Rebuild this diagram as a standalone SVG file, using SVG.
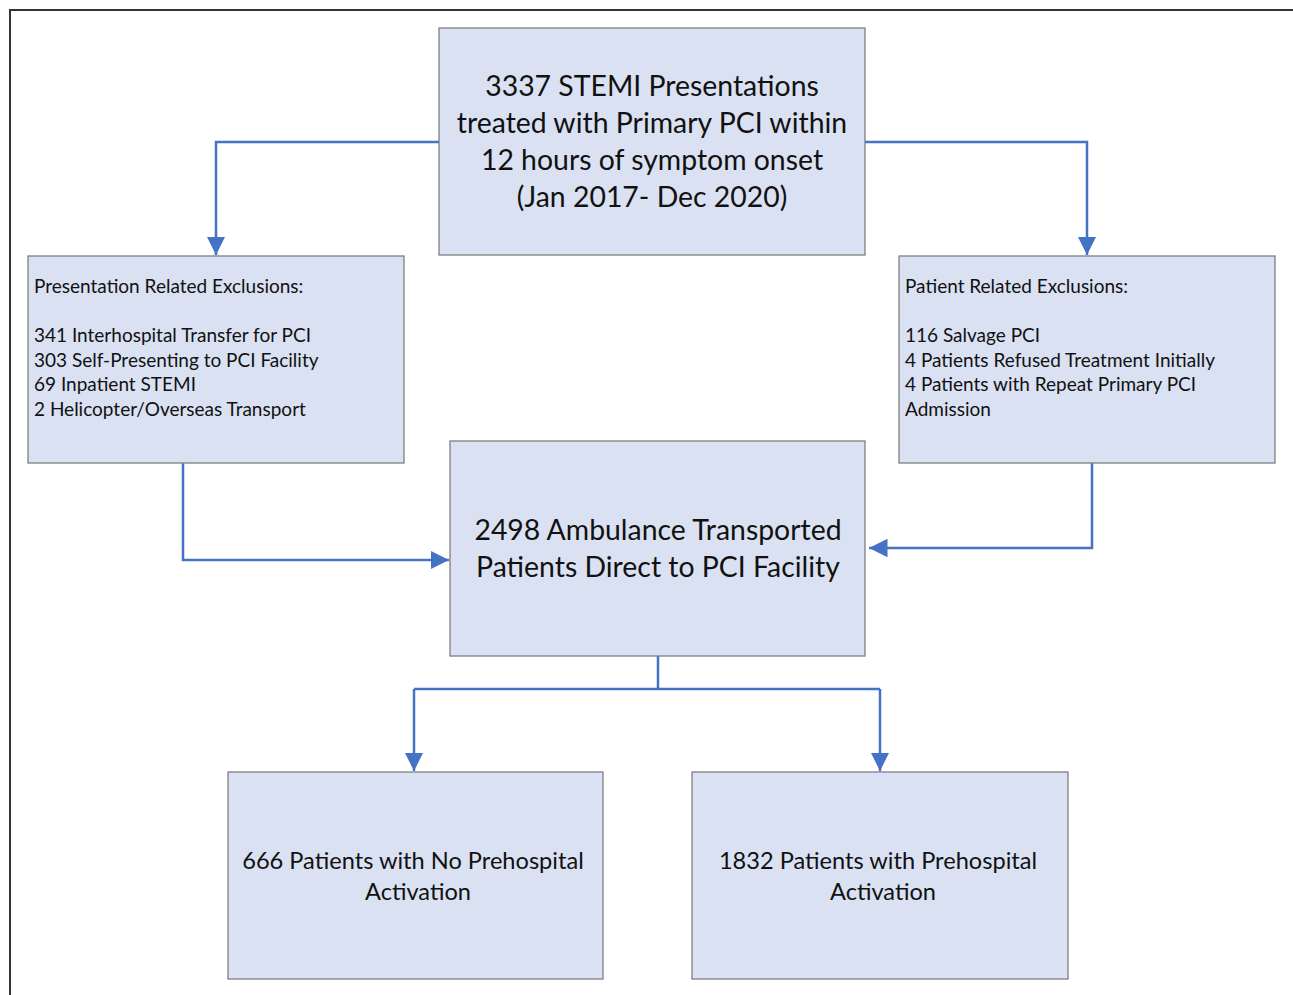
<svg xmlns="http://www.w3.org/2000/svg" width="1293" height="995" viewBox="0 0 1293 995">
<defs>
<style>
.box{fill:#dae1f3;stroke:#7f7f7f;stroke-width:1.3}
.t{font-family:Lato,"Open Sans","Liberation Sans",sans-serif;fill:#111}
.big{font-size:28.4px;text-anchor:middle}
.mid{font-size:23.6px;text-anchor:middle}
.sm{font-size:19px}
.c{fill:none;stroke:#4472c4;stroke-width:2.5}
</style>
<marker id="ah" viewBox="0 0 10 10" refX="10" refY="5" markerWidth="7.4" markerHeight="7.4" orient="auto" markerUnits="strokeWidth">
<path d="M0,0 L10,5 L0,10 z" fill="#4472c4"/>
</marker>
</defs>
<rect x="0" y="0" width="1293" height="995" fill="#fff"/>
<path d="M10,995 V10 H1293" fill="none" stroke="#333" stroke-width="2"/>
<g id="connectors">
<path class="c" d="M439,142 H216 V255" marker-end="url(#ah)"/>
<path class="c" d="M865,142 H1087 V255" marker-end="url(#ah)"/>
<path class="c" d="M183,463 V560 H449" marker-end="url(#ah)"/>
<path class="c" d="M1092,463 V548 H869" marker-end="url(#ah)"/>
<path class="c" d="M658,656 V689"/>
<path class="c" d="M414,689 H880"/>
<path class="c" d="M414,689 V771" marker-end="url(#ah)"/>
<path class="c" d="M880,689 V771" marker-end="url(#ah)"/>
</g>
<g id="n-top">
<rect class="box" x="439" y="28" width="426" height="227"/>
<text class="t big" x="652" y="96">3337 STEMI Presentations</text>
<text class="t big" x="652" y="133">treated with Primary PCI within</text>
<text class="t big" x="652" y="170">12 hours of symptom onset</text>
<text class="t big" x="652" y="207">(Jan 2017- Dec 2020)</text>
</g>
<g id="n-left">
<rect class="box" x="28" y="256" width="376" height="207"/>
<text class="t sm" x="34" y="293">Presentation Related Exclusions:</text>
<text class="t sm" x="34" y="342">341 Interhospital Transfer for PCI</text>
<text class="t sm" x="34" y="367">303 Self-Presenting to PCI Facility</text>
<text class="t sm" x="34" y="391">69 Inpatient STEMI</text>
<text class="t sm" x="34" y="416">2 Helicopter/Overseas Transport</text>
</g>
<g id="n-right">
<rect class="box" x="899" y="256" width="376" height="207"/>
<text class="t sm" x="905" y="293">Patient Related Exclusions:</text>
<text class="t sm" x="905" y="342">116 Salvage PCI</text>
<text class="t sm" x="905" y="367">4 Patients Refused Treatment Initially</text>
<text class="t sm" x="905" y="391">4 Patients with Repeat Primary PCI</text>
<text class="t sm" x="905" y="416">Admission</text>
</g>
<g id="n-mid">
<rect class="box" x="450" y="441" width="415" height="215"/>
<text class="t big" x="658" y="540">2498 Ambulance Transported</text>
<text class="t big" x="658" y="577">Patients Direct to PCI Facility</text>
</g>
<g id="n-bl">
<rect class="box" x="228" y="772" width="375" height="207"/>
<text class="t mid" x="413" y="869">666 Patients with No Prehospital</text>
<text class="t mid" x="418" y="900">Activation</text>
</g>
<g id="n-br">
<rect class="box" x="692" y="772" width="376" height="207"/>
<text class="t mid" x="878" y="869">1832 Patients with Prehospital</text>
<text class="t mid" x="883" y="900">Activation</text>
</g>
</svg>
